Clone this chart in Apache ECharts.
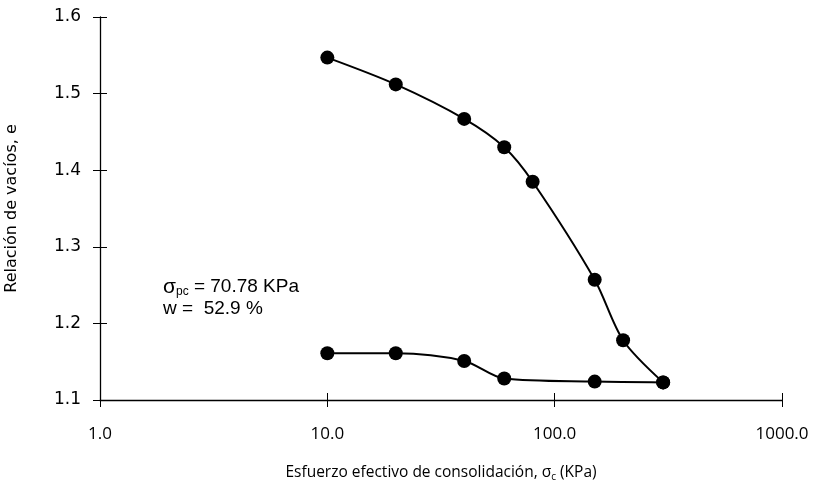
<!DOCTYPE html>
<html>
<head>
<meta charset="utf-8">
<script src="https://cdn.jsdelivr.net/npm/echarts@6/dist/echarts.min.js"></script>
<style>
html,body{margin:0;padding:0;background:#fff;}
#chart{width:818px;height:487px;}
</style>
</head>
<body>
<div id="chart"></div>
<script>
// Loading branch (carga)
const loadStress = [10, 20, 40, 60, 80, 150, 200, 300];
const loadVoid   = [1.547, 1.512, 1.467, 1.430, 1.385, 1.257, 1.178, 1.123];
// Unloading branch (descarga)
const unloadStress = [300, 150, 60, 40, 20, 10];
const unloadVoid   = [1.123, 1.124, 1.128, 1.151, 1.161, 1.161];
const xTicks = [1, 10, 100, 1000];
const yTicks = [1.1, 1.2, 1.3, 1.4, 1.5, 1.6];

const chart = echarts.init(document.getElementById('chart'));
const black = '#000';
function pairs(xs, ys){ return xs.map((x,i)=>[x, ys[i]]); }
const tickFont = '"DejaVu Sans"';
const xFont = '"Open Sans"';
const W = 818, H = 487;
const G = {left: 100, right: 36, top: 17, bottom: 87};
const plotW = W - G.left - G.right;
const plotH = H - G.top - G.bottom;

const option = {
  animation: false,
  backgroundColor: '#fff',
  grid: Object.assign({containLabel: false, outerBoundsMode: 'none'}, G),
  xAxis: [{
    type: 'log', logBase: 10, min: xTicks[0], max: xTicks[xTicks.length-1],
    name: 'Esfuerzo efectivo de consolidación, {s|σ}{sub|c} (KPa)',
    nameLocation: 'middle', nameGap: 64,
    nameTextStyle: {color: black, fontSize: 15.5, fontFamily: xFont,
      rich: {s: {fontSize: 15.5, fontFamily: xFont, color: black},
             sub: {fontSize: 10, verticalAlign: 'bottom', padding: [8,0,0,0], fontFamily: xFont, color: black}}},
    axisLine: {show: true, onZero: false, lineStyle: {color: black, width: 1.3}},
    axisTick: {show: true, inside: false, length: 7, lineStyle: {color: black, width: 1}},
    minorTick: {show: false},
    splitLine: {show: false},
    axisLabel: {color: black, fontSize: 17, margin: 26, fontFamily: xFont,
      formatter: v => Number(v).toFixed(1)}
  }, {
    type: 'log', logBase: 10, min: xTicks[0], max: xTicks[xTicks.length-1],
    position: 'top', offset: -plotH,
    axisLine: {show: false, onZero: false},
    axisTick: {show: true, inside: false, length: 7, lineStyle: {color: black, width: 1}},
    axisLabel: {show: false}, splitLine: {show: false}
  }],
  yAxis: [{
    type: 'value', min: yTicks[0], max: yTicks[yTicks.length-1], interval: 0.1,
    name: 'Relación de vacíos, e', nameLocation: 'middle', nameGap: 80,
    nameTextStyle: {color: black, fontSize: 16, fontFamily: tickFont},
    axisLine: {show: true, onZero: false, lineStyle: {color: black, width: 1.3}},
    axisTick: {show: true, inside: false, length: 7, lineStyle: {color: black, width: 1}},
    splitLine: {show: false},
    axisLabel: {color: black, fontSize: 17, margin: 19, fontFamily: tickFont,
      formatter: v => Number(v).toFixed(1)}
  }, {
    type: 'value', min: yTicks[0], max: yTicks[yTicks.length-1], interval: 0.1,
    position: 'right', offset: -plotW,
    axisLine: {show: false, onZero: false},
    axisTick: {show: true, inside: false, length: 7, lineStyle: {color: black, width: 1}},
    axisLabel: {show: false}, splitLine: {show: false}
  }],
  series: [{
    type: 'line', data: pairs(loadStress, loadVoid), smooth: 0.3,
    symbol: 'circle', symbolSize: 14, itemStyle: {color: black},
    lineStyle: {color: black, width: 2}, z: 3
  }, {
    type: 'line', data: pairs(unloadStress, unloadVoid), smooth: 0.3,
    symbol: 'circle', symbolSize: 14, itemStyle: {color: black},
    lineStyle: {color: black, width: 2}, z: 3
  }, {
    type: 'line', xAxisIndex: 1, yAxisIndex: 1, data: [[1, 1.1]], silent: true, showSymbol: false,
    lineStyle: {opacity: 0}, itemStyle: {opacity: 0}
  }],
  graphic: [{
    type: 'text', left: 163, top: 276,
    style: {
      text: '{s|σ}{sub|pc} = 70.78 KPa\nw =  52.9 %',
      fill: black, fontSize: 19, fontFamily: 'Liberation Sans', lineHeight: 22,
      rich: {
        s: {fontSize: 21, fontFamily: 'Liberation Sans', fill: black},
        sub: {fontSize: 12, fontFamily: 'Liberation Sans', verticalAlign: 'bottom', padding: [8,0,0,0], fill: black}
      }
    }
  }]
};
chart.setOption(option);
</script>
</body>
</html>
